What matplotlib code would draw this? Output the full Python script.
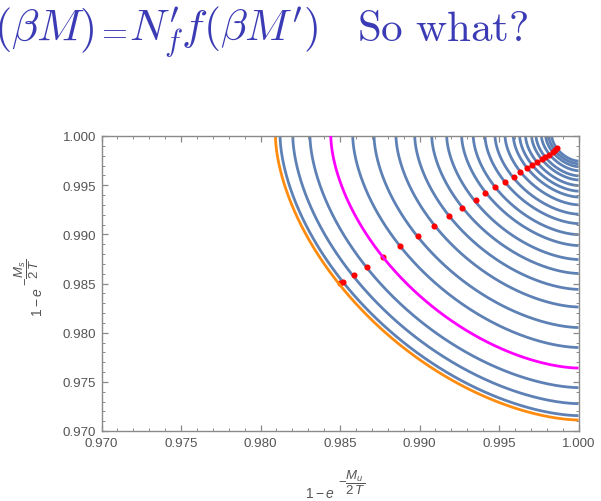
import numpy as np
import matplotlib
matplotlib.use("Agg")
import matplotlib.pyplot as plt
from matplotlib.ticker import MultipleLocator, FormatStrFormatter

# contour curves: where each one meets the top edge (y = 1) and the right edge (x = 1)
top_x = [0.98094, 0.98123, 0.98203, 0.98311, 0.98442, 0.98580, 0.98714, 0.98852,
         0.98970, 0.99077, 0.99171, 0.99265, 0.99338, 0.99412, 0.99475, 0.99538,
         0.99590, 0.99630, 0.99667, 0.99705, 0.99733, 0.99767, 0.99794, 0.99813, 0.99832]
right_y = [0.97112, 0.97156, 0.97278, 0.97441, 0.97640, 0.97849, 0.98052, 0.98261,
           0.98440, 0.98602, 0.98744, 0.98886, 0.98997, 0.99109, 0.99205, 0.99300,
           0.99379, 0.99439, 0.99496, 0.99553, 0.99595, 0.99647, 0.99688, 0.99717, 0.99745]
curve_colors = ["orange"] + ["blue"] * 3 + ["magenta"] + ["blue"] * 20
shape_exp = 1.7

# red points along the diagonal
dot_x = [0.98500, 0.98521, 0.98588, 0.98668, 0.98772, 0.98877, 0.98989, 0.99094,
         0.99186, 0.99269, 0.99353, 0.99414, 0.99477, 0.99540, 0.99592, 0.99632,
         0.99674, 0.99706, 0.99737, 0.99769, 0.99789, 0.99816, 0.99837, 0.99852, 0.99867]
dot_y = [0.98503, 0.98519, 0.98584, 0.98665, 0.98767, 0.98885, 0.98984, 0.99085,
         0.99184, 0.99268, 0.99350, 0.99421, 0.99485, 0.99536, 0.99583, 0.99634,
         0.99671, 0.99705, 0.99736, 0.99766, 0.99790, 0.99810, 0.99841, 0.99861, 0.99875]

palette = {"blue": "#5E81B5", "orange": "#FF8C0F", "magenta": "#FF00FF"}

plt.rcParams["mathtext.fontset"] = "custom"
plt.rcParams["mathtext.rm"] = "Liberation Sans"
plt.rcParams["mathtext.it"] = "Liberation Sans:italic"
plt.rcParams["font.family"] = "Liberation Sans"

fig = plt.figure(figsize=(6.01, 5.02), dpi=100)
ax = fig.add_axes([101.5 / 601, 1 - 432 / 502, 477 / 601, 295 / 502])

theta = np.linspace(0, np.pi / 2, 400)
for xt, yr, c in zip(top_x, right_y, curve_colors):
    a = 1 - xt
    b = 1 - yr
    xs = 1 - a * np.cos(theta) ** (2 / shape_exp)
    ys = 1 - b * np.sin(theta) ** (2 / shape_exp)
    z = 3 if c == "magenta" else (2.5 if c == "orange" else 1)
    ax.plot(xs, ys, color=palette[c], lw=2.0, zorder=z, solid_capstyle="butt")

ax.plot(dot_x, dot_y, "o", color="#FF0000", ms=4.4, mec="none", zorder=2)

ax.set_xlim(0.970, 1.000)
ax.set_ylim(0.970, 1.000)

frame_col = "#8a8a8a"
label_col = "#555555"
for s in ax.spines.values():
    s.set_color(frame_col)
    s.set_linewidth(1.0)

ax.xaxis.set_major_locator(MultipleLocator(0.005))
ax.xaxis.set_minor_locator(MultipleLocator(0.001))
ax.yaxis.set_major_locator(MultipleLocator(0.005))
ax.yaxis.set_minor_locator(MultipleLocator(0.001))
ax.xaxis.set_major_formatter(FormatStrFormatter("%.3f"))
ax.yaxis.set_major_formatter(FormatStrFormatter("%.3f"))
ax.tick_params(which="both", direction="in", top=True, right=True, color=frame_col,
               labelcolor=label_col, labelsize=9.6)
ax.tick_params(which="major", length=4, width=0.9, pad=4)
ax.tick_params(which="minor", length=2.4, width=0.7)

# axis labels built from two pieces so the exponent fraction stays large
ax.text(0.4266, -0.2237, r"$1-e$", transform=ax.transAxes, fontsize=10,
        color=label_col, ha="left", va="baseline")
ax.text(0.4958, -0.1729, r"$-\dfrac{M_u}{2\,T}$", transform=ax.transAxes, fontsize=9.5,
        color=label_col, ha="left", va="center")
ax.text(-0.1247, 0.3898, r"$1-e$", transform=ax.transAxes, fontsize=10,
        color=label_col, ha="left", va="baseline", rotation=90, rotation_mode="anchor")
ax.text(-0.1562, 0.4949, r"$-\dfrac{M_s}{2\,T}$", transform=ax.transAxes, fontsize=9.5,
        color=label_col, ha="left", va="center", rotation=90, rotation_mode="anchor")

# slide heading, cut at the left edge as in the original
title_col = "#3B3BB5"
base_y = 1 - 41 / 502
fig.text(94 / 601, base_y, r"$(\beta M)$", fontsize=32, color=title_col,
         ha="right", va="baseline", math_fontfamily="cm")
fig.text(112 / 601, base_y, r"$=$", fontsize=24, color=title_col,
         ha="center", va="baseline", math_fontfamily="cm")
fig.text(129 / 601, base_y, r"$N_f^{\prime} f(\beta M^{\prime})$", fontsize=31.5,
         color=title_col, ha="left", va="baseline", math_fontfamily="cm")
fig.text(357 / 601, base_y, r"$\mathrm{So\ what?}$",
         fontsize=31, color=title_col, ha="left", va="baseline",
         math_fontfamily="cm")

fig.savefig("out.png", dpi=100)
